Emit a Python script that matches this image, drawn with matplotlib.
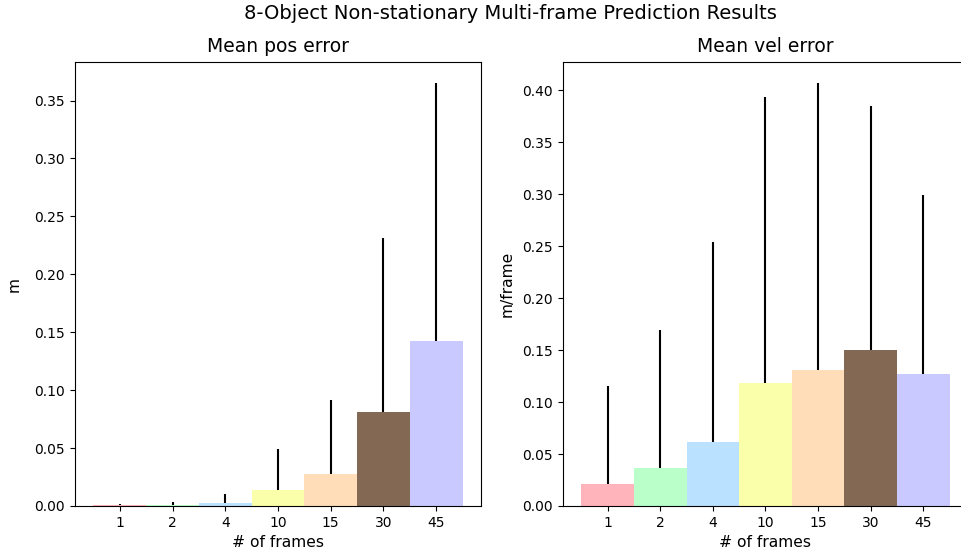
import matplotlib
matplotlib.use("Agg")
import matplotlib.pyplot as plt
import numpy as np

# --- Data ---
frames = ["1", "2", "4", "10", "15", "30", "45"]
pos_mean = [0.0009, 0.0006, 0.0023, 0.0138, 0.0276, 0.081, 0.142]
pos_std = [0.0006, 0.0031, 0.0080, 0.0352, 0.0638, 0.150, 0.223]
vel_mean = [0.0208, 0.0364, 0.062, 0.118, 0.131, 0.150, 0.127]
vel_std = [0.095, 0.133, 0.192, 0.276, 0.276, 0.235, 0.172]
colors = ["#FFB3BA", "#BAFFC9", "#BAE1FF", "#FAFFAA", "#FFDDB8", "#836953", "#C9C9FF"]

# --- Plot ---
fig = plt.figure(figsize=(9.61, 5.57), dpi=100)
ax1 = fig.add_axes([0.078, 0.0916, 0.4225, 0.797])
ax2 = fig.add_axes([0.5858, 0.0916, 0.4215, 0.797])

x = np.arange(len(frames))


def draw(ax, mean, std, title, ylabel, pad):
    lower = np.zeros(len(mean))
    # errorbar sits behind the bars, only the upper part shows
    ax.errorbar(x, mean, yerr=[lower, std], fmt="none", ecolor="black",
                elinewidth=1.5, capsize=0, zorder=1)
    ax.bar(x, mean, width=1.0, color=colors, zorder=2)
    ax.set_xticks(x)
    ax.set_xticklabels(frames)
    ax.set_ylim(bottom=0)
    ax.set_title(title, fontsize=13.5, pad=7)
    ax.set_xlabel("# of frames", fontsize=11.2)
    ax.set_ylabel(ylabel, fontsize=11.2, labelpad=pad)


draw(ax1, pos_mean, pos_std, "Mean pos error", "m", 9)
draw(ax2, vel_mean, vel_std, "Mean vel error", "m/frame", 6)
ax2.spines["right"].set_visible(False)

fig.suptitle("8-Object Non-stationary Multi-frame Prediction Results",
             fontsize=14, x=0.531, y=0.992)

# --- Render ---
plt.savefig("out.png", dpi=100)
plt.close()
